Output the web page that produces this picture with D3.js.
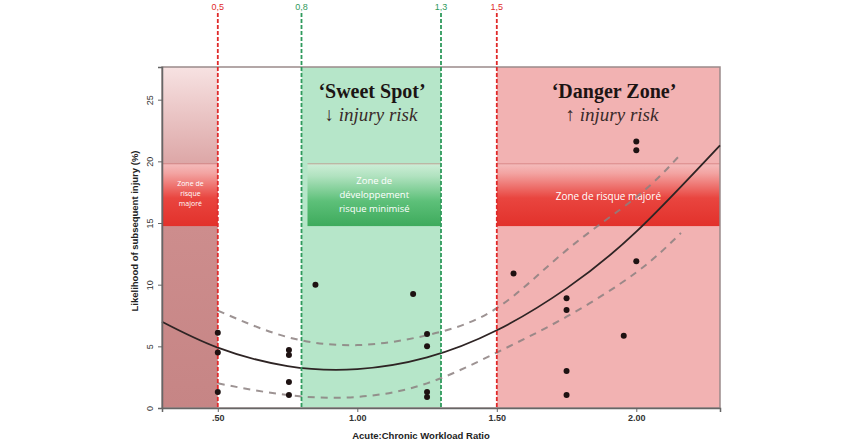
<!DOCTYPE html>
<html>
<head>
<meta charset="utf-8">
<script src="https://cdn.jsdelivr.net/npm/d3@7"></script>
<style>
  body { margin: 0; background: #fff; }
  svg { display: block; }
</style>
</head>
<body>
<div id="chart"></div>
<script>
// scatter points
var pointX = [0.5, 0.5, 0.5, 0.755, 0.755, 0.755, 0.755, 0.85, 1.2, 1.25, 1.25, 1.25, 1.25,
              1.56, 1.75, 1.75, 1.75, 1.75, 1.955, 2.0, 2.0, 2.0];
var pointY = [6.1, 4.5, 1.3, 4.7, 4.3, 2.1, 1.05, 10.0, 9.25, 6.0, 5.0, 1.3, 0.9,
              10.9, 8.9, 7.95, 3.0, 1.05, 5.85, 21.6, 20.9, 11.9];

// quadratic fit line (solid) read at a few x positions
var fitX = [0.3, 0.5, 0.75, 1.0, 1.25, 1.5, 1.75, 2.0, 2.3];
var fitY = [7.0, 4.9, 3.4, 3.15, 4.1, 6.3, 9.7, 14.3, 21.3];

// confidence band (dashed)
var ciX = [0.5, 0.75, 1.0, 1.25, 1.5, 1.75, 2.0, 2.16];
var ciUpper = [7.9, 5.75, 5.1, 5.9, 8.1, 12.8, 17.1, 20.6];
var ciLower = [2.0, 1.05, 0.9, 2.0, 4.5, 7.4, 11.0, 14.2];

// thresholds
var thresholds = [0.5, 0.8, 1.3, 1.5];
var thresholdLabels = ["0,5", "0,8", "1,3", "1,5"];
var thresholdKinds = ["red", "green", "green", "red"];

var xTicks = [0.5, 1.0, 1.5, 2.0];
var yTicks = [0, 5, 10, 15, 20, 25];

var W = 856, H = 443;
var margin = { top: 67, right: 136, bottom: 35, left: 162 };

var svg = d3.select("#chart").append("svg")
    .attr("width", W)
    .attr("height", H);

var x = d3.scaleLinear().domain([0.3, 2.3]).range([margin.left, W - margin.right]);
var y = d3.scaleLinear().domain([0, 27.65]).range([H - margin.bottom, margin.top]);

var defs = svg.append("defs");
function grad(id, stops) {
    var g = defs.append("linearGradient").attr("id", id)
        .attr("x1", 0).attr("y1", 0).attr("x2", 0).attr("y2", 1);
    stops.forEach(function (s) {
        g.append("stop").attr("offset", s[0]).attr("stop-color", s[1]);
    });
}
grad("leftZone", [[0, "#f7e2e2"], [0.3, "#dba3a3"], [0.46, "#cd8d8d"], [1, "#c68585"]]);
grad("redBox", [[0, "#f4bcbc"], [0.15, "#f3a4a2"], [0.55, "#e9453f"], [1, "#e2312b"]]);
grad("greenBox", [[0, "#cdeed7"], [0.2, "#b0e2bf"], [0.6, "#5dc079"], [1, "#3eaa5c"]]);

var plotTop = y.range()[1], plotBottom = y.range()[0];

// zones
svg.append("rect")
    .attr("x", x(0.3)).attr("y", plotTop)
    .attr("width", x(0.5) - x(0.3)).attr("height", plotBottom - plotTop)
    .attr("fill", "url(#leftZone)");
svg.append("rect")
    .attr("x", x(0.8)).attr("y", plotTop)
    .attr("width", x(1.3) - x(0.8)).attr("height", plotBottom - plotTop)
    .attr("fill", "#b6e6c9");
svg.append("rect")
    .attr("x", x(1.5)).attr("y", plotTop)
    .attr("width", x(2.3) - x(1.5)).attr("height", plotBottom - plotTop)
    .attr("fill", "#f2b2b2");

// label boxes
var boxTop = y(19.8), boxBot = y(14.75);
function labelBox(x0, x1, fill, lines, size, y0, step) {
    svg.append("rect")
        .attr("x", x0).attr("y", boxTop)
        .attr("width", x1 - x0).attr("height", boxBot - boxTop)
        .attr("fill", fill);
    svg.append("line")
        .attr("x1", x0).attr("x2", x1).attr("y1", boxTop).attr("y2", boxTop)
        .attr("stroke", "#c05a5a").attr("stroke-width", 0.8).attr("opacity", 0.6);
    lines.forEach(function (t, i) {
        svg.append("text")
            .attr("x", (x0 + x1) / 2).attr("y", y0 + i * step)
            .attr("text-anchor", "middle")
            .attr("fill", "#fff")
            .style("font-family", "'Open Sans', 'Noto Sans', sans-serif")
            .style("font-size", size + "px")
            .text(t);
    });
}
labelBox(x(0.3) + 1, x(0.5), "url(#redBox)", ["Zone de", "risque", "majoré"], 7, 186, 10);
labelBox(x(0.8) + 6, x(1.3), "url(#greenBox)", ["Zone de", "développement", "risque minimisé"], 9.5, 184, 14);
labelBox(x(1.5), x(2.3), "url(#redBox)", ["Zone de risque majoré"], 10, 200, 0);

// frame
svg.append("rect")
    .attr("x", x(0.3)).attr("y", plotTop)
    .attr("width", x(2.3) - x(0.3)).attr("height", plotBottom - plotTop)
    .attr("fill", "none")
    .attr("stroke", "#9a8a8a").attr("stroke-width", 1.5);

// zone titles
function serifText(tx, ty, t, bold) {
    svg.append("text")
        .attr("x", tx).attr("y", ty)
        .attr("text-anchor", "middle")
        .attr("fill", bold ? "#1c1414" : "#3a2a2a")
        .style("font-family", "'Liberation Serif', 'DejaVu Serif', serif")
        .style("font-size", bold ? "20px" : "19px")
        .style("font-weight", bold ? "bold" : "normal")
        .style("font-style", bold ? "normal" : "italic")
        .text(t);
}
serifText(372, 98, "\u2018Sweet Spot\u2019", true);
serifText(371, 121, "\u2193 injury risk", false);
serifText(614, 98, "\u2018Danger Zone\u2019", true);
serifText(612, 121, "\u2191 injury risk", false);

// confidence band
var line = d3.line()
    .x(function (d) { return x(d[0]); })
    .y(function (d) { return y(d[1]); })
    .curve(d3.curveNatural);

[ciUpper, ciLower].forEach(function (vals) {
    svg.append("path")
        .datum(ciX.map(function (v, i) { return [v, vals[i]]; }))
        .attr("d", line)
        .attr("fill", "none")
        .attr("stroke", "#8c8080")
        .attr("stroke-width", 2)
        .attr("stroke-dasharray", "7,6")
        .attr("opacity", 0.85);
});

// fit line
svg.append("path")
    .datum(fitX.map(function (v, i) { return [v, fitY[i]]; }))
    .attr("d", line)
    .attr("fill", "none")
    .attr("stroke", "#2e2424")
    .attr("stroke-width", 1.8);

// threshold lines
var colorOf = { red: "#e02a2a", green: "#2f9a5c" };
thresholds.forEach(function (t, i) {
    svg.append("line")
        .attr("x1", x(t)).attr("x2", x(t))
        .attr("y1", 13).attr("y2", plotBottom)
        .attr("stroke", colorOf[thresholdKinds[i]])
        .attr("stroke-width", 1.8)
        .attr("stroke-dasharray", "4,2");
    svg.append("text")
        .attr("x", x(t)).attr("y", 10)
        .attr("text-anchor", "middle")
        .attr("fill", colorOf[thresholdKinds[i]])
        .style("font-family", "'Liberation Sans', Arial, sans-serif")
        .style("font-size", "9px")
        .text(thresholdLabels[i]);
});

// points
svg.selectAll("circle.pt")
    .data(pointX.map(function (v, i) { return [v, pointY[i]]; }))
    .enter().append("circle")
    .attr("class", "pt")
    .attr("cx", function (d) { return x(d[0]); })
    .attr("cy", function (d) { return y(d[1]); })
    .attr("r", 3)
    .attr("fill", "#1e1212");

// axes
var fmt = function (d) {
    var s = d3.format(".2f")(d);
    return d < 1 ? s.replace(/^0/, "") : s;
};
var xAxis = svg.append("g")
    .attr("transform", "translate(0," + plotBottom + ")")
    .call(d3.axisBottom(x).tickValues(xTicks).tickFormat(fmt).tickSize(4).tickPadding(3));
xAxis.select(".domain").attr("stroke", "#666").attr("stroke-width", 1.5);
xAxis.selectAll(".tick line").attr("stroke", "#666");
xAxis.selectAll("text")
    .attr("fill", "#333")
    .style("font-family", "'Liberation Sans', Arial, sans-serif")
    .style("font-size", "9px")
    .style("font-weight", "bold");

var yAxis = svg.append("g")
    .attr("transform", "translate(" + x(0.3) + ",0)")
    .call(d3.axisLeft(y).tickValues(yTicks).tickSize(4).tickPadding(3));
yAxis.select(".domain").attr("stroke", "#666").attr("stroke-width", 1.5);
yAxis.selectAll(".tick line").attr("stroke", "#666");
yAxis.selectAll("text")
    .attr("fill", "#333")
    .attr("x", 0).attr("dy", 0)
    .attr("text-anchor", "middle")
    .attr("transform", "translate(-9,0) rotate(-90)")
    .style("font-family", "'Liberation Sans', Arial, sans-serif")
    .style("font-size", "9px");

// axis titles
svg.append("text")
    .attr("x", 421).attr("y", 439)
    .attr("text-anchor", "middle")
    .attr("fill", "#222")
    .style("font-family", "'Liberation Sans', Arial, sans-serif")
    .style("font-size", "9.5px")
    .style("font-weight", "bold")
    .text("Acute:Chronic Workload Ratio");

svg.append("text")
    .attr("transform", "translate(138,231) rotate(-90)")
    .attr("text-anchor", "middle")
    .attr("fill", "#222")
    .style("font-family", "'Liberation Sans', Arial, sans-serif")
    .style("font-size", "9.5px")
    .style("font-weight", "bold")
    .text("Likelihood of subsequent injury (%)");
</script>
</body>
</html>
